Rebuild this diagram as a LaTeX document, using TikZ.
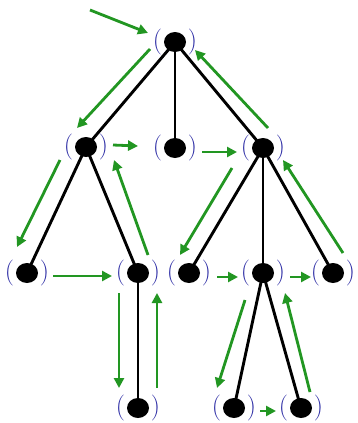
\documentclass[tikz,border=0pt]{standalone}
\usetikzlibrary{shapes.geometric,arrows.meta,calc}
\definecolor{parblue}{RGB}{45,45,165}
\definecolor{arrgreen}{RGB}{34,150,34}
\tikzset{
  dot/.style={ellipse,fill=black,minimum width=22pt,minimum height=20pt,inner sep=0pt},
  paren/.style={text=parblue,font=\fontsize{26}{26}\selectfont,inner sep=0pt},
  tedge/.style={line width=2.9pt,black},
  garrow/.style={line width=2.8pt,arrgreen,-{Triangle[length=10pt,width=10pt]}}
}
\newcommand{\treenode}[2]{%
  \node[dot] (#1) at (#2) {};
  \node[paren] (#1l) at ($(#1)+(-17.5,0)$) {(};
  \node[paren] (#1r) at ($(#1)+(17.5,0)$) {)};
}
\begin{document}
\begin{tikzpicture}[x=1pt,y=-1pt]
\useasboundingbox (0,0) rectangle (357,423);
% node positions
\coordinate (pR) at (175,42);
\coordinate (pA) at (86,147);
\coordinate (pB) at (175,148);
\coordinate (pC) at (263,148);
\coordinate (pD) at (27,273);
\coordinate (pE) at (138,273);
\coordinate (pF) at (189,273);
\coordinate (pG) at (263,273);
\coordinate (pH) at (333,273);
\coordinate (pI) at (138,408);
\coordinate (pJ) at (234,408);
\coordinate (pK) at (301,408);
\coordinate (start) at (90,10);
% tree edges
\foreach \a/\b in {R/A,R/B,R/C,A/D,A/E,E/I,C/F,C/G,C/H,G/J,G/K}
  \draw[tedge] (p\a) -- (p\b);
% nodes
\treenode{R}{pR}
\treenode{A}{pA}
\treenode{B}{pB}
\treenode{C}{pC}
\treenode{D}{pD}
\treenode{E}{pE}
\treenode{F}{pF}
\treenode{G}{pG}
\treenode{H}{pH}
\treenode{I}{pI}
\treenode{J}{pJ}
\treenode{K}{pK}
% traversal arrows
\draw[garrow] (start) -- ($(R)+(-27,-9)$);
\draw[garrow] ($(R)+(-25,7)$) -- ($(A)+(-9,-19)$);
\draw[garrow] ($(A)+(-26,13)$) -- ($(D)+(-10,-26)$);
\draw[garrow] ($(D)+(26,3)$) -- ($(E)+(-26,3)$);
\draw[garrow] ($(E)+(-19,20)$) -- ($(I)+(-19,-20)$);
\draw[garrow] ($(I)+(19,-20)$) -- ($(E)+(19,20)$);
\draw[garrow] ($(E)+(10,-18)$) -- ($(A)+(28,13)$);
\draw[garrow] ($(A)+(27,-2)$) -- ($(B)+(-37,-2)$);
\draw[garrow] ($(B)+(27,4)$) -- ($(C)+(-26,4)$);
\draw[garrow] ($(C)+(-31,20)$) -- ($(F)+(-9,-18)$);
\draw[garrow] ($(F)+(28,4)$) -- ($(G)+(-25,4)$);
\draw[garrow] ($(G)+(-18,27)$) -- ($(J)+(-17,-20)$);
\draw[garrow] ($(J)+(26,3)$) -- ($(K)+(-25,3)$);
\draw[garrow] ($(K)+(9,-16)$) -- ($(G)+(22,20)$);
\draw[garrow] ($(G)+(27,4)$) -- ($(H)+(-22,4)$);
\draw[garrow] ($(H)+(10,-20)$) -- ($(C)+(20,12)$);
\draw[garrow] ($(C)+(5,-20)$) -- ($(R)+(20,8)$);
\end{tikzpicture}
\end{document}
